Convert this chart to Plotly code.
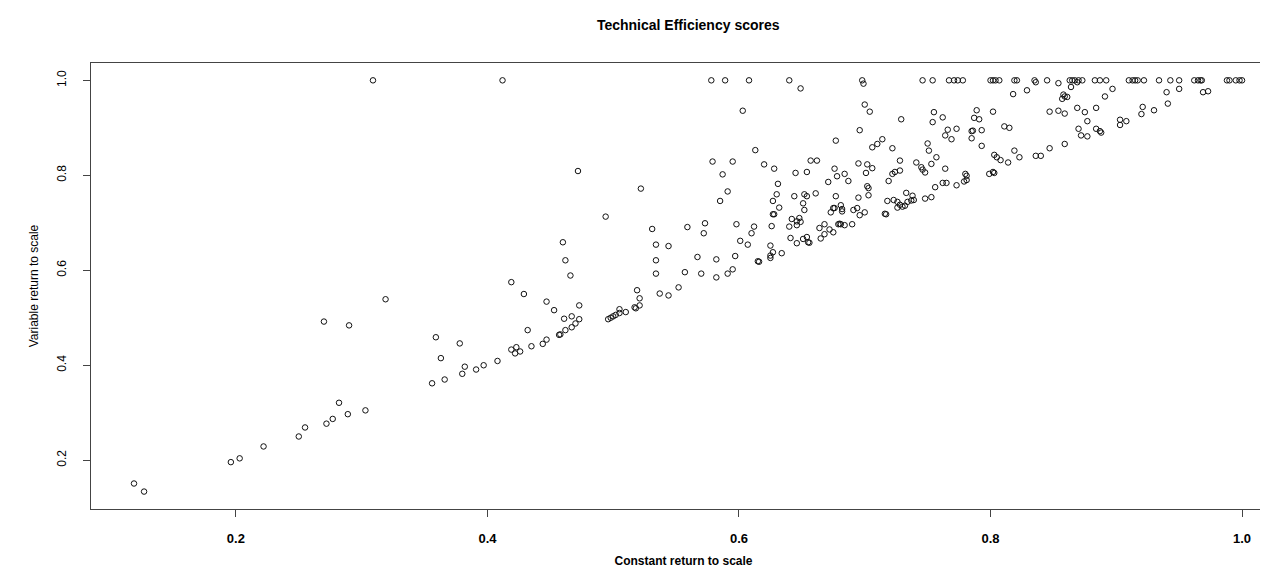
import plotly.graph_objects as go

# (CRS score, VRS score) pairs, grouped by region
low_scores = [
    (0.119, 0.151), (0.127, 0.134), (0.196, 0.196), (0.203, 0.204), (0.222, 0.229),
    (0.250, 0.250), (0.255, 0.269), (0.272, 0.277), (0.277, 0.287), (0.282, 0.321),
    (0.289, 0.297), (0.303, 0.305), (0.270, 0.492), (0.290, 0.484), (0.319, 0.539),
]

lowmid_scores = [
    (0.356, 0.362), (0.366, 0.370), (0.359, 0.459), (0.363, 0.415), (0.378, 0.446),
    (0.382, 0.397), (0.380, 0.382), (0.391, 0.391), (0.397, 0.400), (0.408, 0.409),
    (0.419, 0.575), (0.419, 0.433), (0.423, 0.438), (0.422, 0.425), (0.426, 0.429),
    (0.429, 0.550), (0.432, 0.474), (0.435, 0.440), (0.444, 0.445), (0.447, 0.454),
    (0.447, 0.534), (0.453, 0.516), (0.457, 0.464), (0.458, 0.465), (0.460, 0.659),
    (0.462, 0.621), (0.466, 0.589), (0.462, 0.474), (0.461, 0.498), (0.467, 0.503),
    (0.467, 0.480), (0.470, 0.488), (0.473, 0.497), (0.473, 0.526), (0.494, 0.713),
    (0.496, 0.497), (0.498, 0.500), (0.500, 0.503), (0.502, 0.506), (0.505, 0.510),
    (0.472, 0.809),
]

mid_scores = [
    (0.522, 0.772), (0.591, 0.766), (0.585, 0.746), (0.531, 0.687), (0.559, 0.691),
    (0.573, 0.699), (0.572, 0.678), (0.598, 0.697), (0.534, 0.654), (0.544, 0.651),
    (0.534, 0.621), (0.567, 0.628), (0.582, 0.623), (0.597, 0.630), (0.534, 0.593),
    (0.557, 0.596), (0.570, 0.593), (0.582, 0.585), (0.591, 0.593), (0.595, 0.602),
    (0.552, 0.564), (0.544, 0.547), (0.537, 0.551), (0.519, 0.558), (0.521, 0.541),
    (0.521, 0.526), (0.517, 0.522), (0.518, 0.520), (0.510, 0.512), (0.505, 0.518),
]

upper_mid_scores = [
    (0.649, 0.983), (0.699, 0.993), (0.700, 0.949), (0.704, 0.934), (0.603, 0.936),
    (0.696, 0.895), (0.677, 0.873), (0.706, 0.859), (0.710, 0.866), (0.714, 0.876),
    (0.722, 0.857), (0.613, 0.853), (0.579, 0.829), (0.595, 0.829), (0.587, 0.802),
    (0.620, 0.823), (0.628, 0.814), (0.631, 0.782), (0.645, 0.805), (0.654, 0.807),
    (0.657, 0.831), (0.662, 0.831), (0.676, 0.814), (0.678, 0.798), (0.671, 0.786),
    (0.684, 0.803), (0.687, 0.788), (0.695, 0.825), (0.702, 0.823), (0.706, 0.815),
    (0.701, 0.805), (0.702, 0.777), (0.703, 0.773), (0.719, 0.788), (0.722, 0.803),
    (0.724, 0.807), (0.728, 0.810), (0.728, 0.831), (0.733, 0.763),
]

dense_scores = [
    (0.630, 0.760), (0.627, 0.746), (0.632, 0.732), (0.627, 0.718), (0.628, 0.718),
    (0.644, 0.756), (0.652, 0.760), (0.654, 0.756), (0.661, 0.762), (0.651, 0.741),
    (0.652, 0.727), (0.642, 0.708), (0.648, 0.710), (0.646, 0.703), (0.649, 0.702),
    (0.640, 0.692), (0.646, 0.695), (0.626, 0.693), (0.612, 0.692), (0.610, 0.678),
    (0.601, 0.662), (0.607, 0.654), (0.625, 0.652), (0.627, 0.638), (0.625, 0.631),
    (0.625, 0.626), (0.634, 0.636), (0.615, 0.619), (0.616, 0.618), (0.641, 0.668),
    (0.646, 0.657), (0.651, 0.666), (0.654, 0.670), (0.655, 0.659), (0.656, 0.658),
    (0.664, 0.689), (0.668, 0.697), (0.665, 0.667), (0.668, 0.676), (0.672, 0.686),
    (0.675, 0.680), (0.679, 0.697), (0.680, 0.698), (0.681, 0.697), (0.684, 0.695),
    (0.690, 0.697), (0.677, 0.756), (0.675, 0.731), (0.676, 0.731), (0.681, 0.737),
    (0.682, 0.729), (0.682, 0.724), (0.673, 0.722), (0.691, 0.727), (0.694, 0.731),
    (0.696, 0.716), (0.700, 0.722), (0.695, 0.753), (0.703, 0.758), (0.716, 0.719),
    (0.717, 0.718), (0.718, 0.746), (0.723, 0.748), (0.726, 0.744), (0.728, 0.738),
    (0.726, 0.732), (0.730, 0.734), (0.732, 0.736), (0.738, 0.757), (0.737, 0.747),
    (0.739, 0.748), (0.734, 0.744), (0.748, 0.751), (0.753, 0.754), (0.756, 0.775),
    (0.762, 0.784), (0.765, 0.784), (0.748, 0.806), (0.773, 0.779), (0.779, 0.787),
    (0.781, 0.790), (0.803, 0.805),
]

high_scores = [
    (0.836, 0.996), (0.854, 0.994), (0.869, 0.996), (0.864, 0.986), (0.829, 0.979),
    (0.818, 0.971), (0.897, 0.982), (0.891, 0.966), (0.858, 0.970), (0.859, 0.966),
    (0.857, 0.961), (0.861, 0.965), (0.940, 0.975), (0.950, 0.982), (0.969, 0.975),
    (0.973, 0.977), (0.941, 0.951), (0.921, 0.944), (0.920, 0.929), (0.930, 0.937),
    (0.847, 0.934), (0.854, 0.936), (0.859, 0.930), (0.869, 0.942), (0.875, 0.933),
    (0.884, 0.942), (0.877, 0.914), (0.870, 0.898), (0.872, 0.884), (0.877, 0.882),
    (0.884, 0.898), (0.887, 0.893), (0.888, 0.890), (0.903, 0.917), (0.908, 0.914),
    (0.903, 0.906), (0.859, 0.866), (0.847, 0.857), (0.836, 0.841), (0.840, 0.841),
    (0.819, 0.852), (0.823, 0.838), (0.803, 0.843), (0.805, 0.838), (0.808, 0.832),
    (0.814, 0.827), (0.793, 0.862), (0.785, 0.893), (0.786, 0.894), (0.793, 0.895),
    (0.785, 0.878), (0.789, 0.937), (0.787, 0.921), (0.791, 0.918), (0.802, 0.934),
    (0.811, 0.903), (0.815, 0.900), (0.755, 0.933), (0.754, 0.912), (0.762, 0.922),
    (0.766, 0.896), (0.764, 0.884), (0.769, 0.876), (0.773, 0.898), (0.729, 0.918),
    (0.750, 0.867), (0.751, 0.852), (0.757, 0.838), (0.753, 0.824), (0.741, 0.827),
    (0.745, 0.817), (0.746, 0.812), (0.764, 0.814), (0.780, 0.803), (0.781, 0.799),
    (0.799, 0.803), (0.802, 0.807),
]

# CRS scores of units that are fully efficient under VRS (VRS = 1.0)
vrs_efficient_crs = [
    0.309, 0.412, 0.578, 0.589, 0.608, 0.640, 0.698,
    0.746, 0.754, 0.767, 0.771, 0.774, 0.778, 0.800, 0.802, 0.804, 0.807,
    0.819, 0.821, 0.835, 0.845, 0.863, 0.865, 0.867, 0.870, 0.873, 0.883,
    0.887, 0.892, 0.910, 0.913, 0.915, 0.917, 0.922, 0.934, 0.943, 0.950,
    0.962, 0.965, 0.967, 0.968, 0.988, 0.990, 0.995, 0.998, 1.000,
]

tick_values = [0.2, 0.4, 0.6, 0.8, 1.0]
tick_labels = ["0.2", "0.4", "0.6", "0.8", "1.0"]

groups = [low_scores, lowmid_scores, mid_scores, upper_mid_scores, dense_scores, high_scores]
crs = [p[0] for g in groups for p in g] + vrs_efficient_crs
vrs = [p[1] for g in groups for p in g] + [1.0] * len(vrs_efficient_crs)

narrow_bold = "Liberation Sans Narrow, Liberation Sans, Arial, sans-serif"
regular = "Liberation Sans, Arial, sans-serif"

fig = go.Figure()
fig.add_trace(go.Scatter(
    x=crs, y=vrs, mode="markers",
    marker=dict(symbol="circle-open", size=5.5, color="#111",
                line=dict(width=1, color="#111")),
    showlegend=False, hoverinfo="x+y",
))

fig.update_layout(
    width=1268, height=573,
    margin=dict(l=83, r=0, t=55, b=72),
    paper_bgcolor="white", plot_bgcolor="white",
    title=dict(text="<b>Technical Efficiency scores</b>", x=0.504, xref="paper",
               xanchor="center", y=1 - 17 / 573, yref="container", yanchor="middle",
               font=dict(family=narrow_bold, size=14, color="black")),
    xaxis=dict(
        range=[0.0848, 1.027], showgrid=False, zeroline=False,
        showline=True, linecolor="#444", linewidth=1, mirror=True,
        ticks="outside", ticklen=7, tickcolor="#444",
        tickvals=tick_values, ticktext=["<b>%s</b>" % t for t in tick_labels],
        tickfont=dict(family=narrow_bold, size=13, color="black"),
        ticklabelstandoff=10,
        title=dict(text="<b>Constant return to scale</b>", standoff=12,
                   font=dict(family=narrow_bold, size=12, color="black")),
    ),
    yaxis=dict(
        range=[0.0973, 1.0365], showgrid=False, zeroline=False,
        showline=True, linecolor="#444", linewidth=1, mirror=False,
        ticks="outside", ticklen=7, tickcolor="#444",
        tickvals=tick_values, ticktext=tick_labels,
        tickangle=-90,
        tickfont=dict(family=regular, size=12, color="black"),
        ticklabelstandoff=12,
        title=dict(text="Variable return to scale", standoff=14,
                   font=dict(family=regular, size=12, color="black")),
    ),
)

fig.write_html("out.html")
